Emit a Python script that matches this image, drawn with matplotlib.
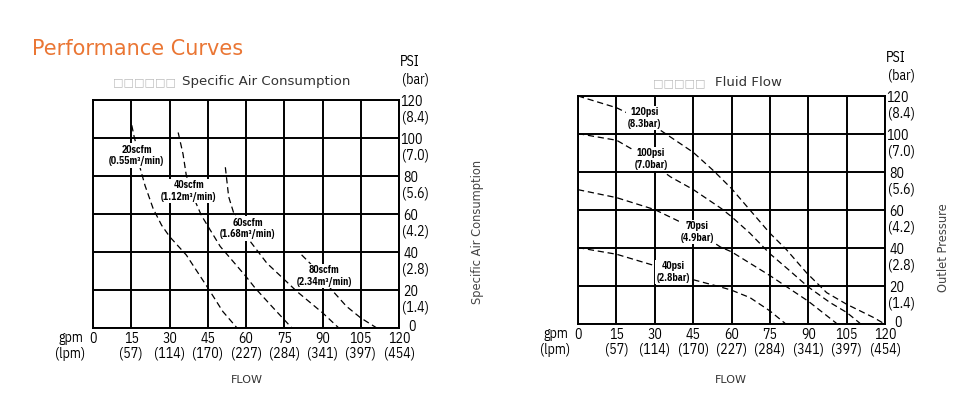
import matplotlib.pyplot as plt

# Tick values and secondary unit labels
gpm_ticks = [0, 15, 30, 45, 60, 75, 90, 105, 120]
lpm_labels = ['', '(57)', '(114)', '(170)', '(227)', '(284)', '(341)', '(397)', '(454)']
psi_ticks = [0, 20, 40, 60, 80, 100, 120]
bar_labels = ['', '(1.4)', '(2.8)', '(4.2)', '(5.6)', '(7.0)', '(8.4)']

# Specific air consumption curves (x = gpm, y = psi)
air20_x = [15.2, 16.2, 16.9, 18.4, 20.4, 23.6, 26.9, 30.1, 36.6, 45.1, 50.9, 56.5]
air20_y = [106.7, 100.3, 96.8, 84.6, 75.0, 62.8, 54.1, 48.0, 38.4, 21.0, 8.7, 0.0]
air40_x = [33.4, 35.3, 36.6, 40.5, 42.5, 45.1, 49.9, 60.0, 63.6, 69.5, 78.0]
air40_y = [102.9, 91.6, 80.2, 65.4, 59.3, 53.5, 42.9, 27.1, 21.0, 12.3, 0.0]
air60_x = [51.9, 53.2, 55.2, 61.7, 68.2, 75.1, 79.9, 90.1, 96.4]
air60_y = [84.6, 69.1, 60.4, 45.5, 34.1, 25.4, 19.3, 7.9, 0.0]
air80_x = [81.8, 85.1, 93.6, 99.4, 105.0, 111.3]
air80_y = [38.5, 34.1, 20.1, 11.4, 5.3, 0.0]
air_names = ['20scfm\n(0.55m³/min)', '40scfm\n(1.12m³/min)',
             '60scfm\n(1.68m³/min)', '80scfm\n(2.34m³/min)']
air_label_x = [17.1, 37.5, 60.6, 90.6]
air_label_y = [90.7, 72.1, 52.4, 27.3]

# Fluid flow curves at different air inlet pressures (x = gpm, y = psi)
p120_x = [0, 15.1, 19.8, 32.4, 45.0, 52.8, 60.0, 67.2, 75.0, 81.5, 89.3, 97.2, 105.0, 115.4, 119.4]
p120_y = [120, 113.8, 110.7, 101.8, 90.4, 80.9, 71.3, 60.0, 47.8, 39.1, 27.0, 16.5, 10.4, 3.5, 0.4]
p100_x = [0, 15.1, 21.9, 36.2, 45.0, 56.0, 60.0, 67.2, 75.0, 82.2, 90.0, 98.5, 105.0, 110.2]
p100_y = [100.2, 96.7, 91.4, 77.4, 70.8, 60.8, 56.5, 47.8, 37.0, 28.7, 19.5, 11.3, 6.1, 0.4]
p70_x = [0, 15.1, 30.0, 40.0, 51.8, 55.7, 60.0, 75.0, 90.0, 101.0]
p70_y = [70.7, 66.5, 60.2, 53.7, 44.0, 40.5, 38.0, 25.5, 12.0, 0.4]
p40_x = [0, 15.1, 30.0, 42.8, 55.7, 60.0, 67.2, 75.0, 80.9]
p40_y = [40.2, 36.7, 30.7, 24.1, 19.5, 17.8, 13.9, 6.9, 0.4]
flow_names = ['120psi\n(8.3bar)', '100psi\n(7.0bar)', '70psi\n(4.9bar)', '40psi\n(2.8bar)']
flow_label_x = [26.0, 28.6, 46.6, 37.3]
flow_label_y = [108.4, 86.8, 48.4, 27.3]

W, H = 971, 407
narrow = ['IBM Plex Sans Condensed', 'DejaVu Sans']
tick_fs = 10

fig = plt.figure(figsize=(W / 100, H / 100), dpi=100)


def fx(x):
    return x / W


def fy(y):
    return 1 - y / H


def label(ax, s, xy, off):
    ax.annotate(s, xy, xytext=off, textcoords='offset pixels', ha='center',
                va='center', fontsize=tick_fs, family=narrow)


def setup_axes(ax):
    ax.set_xlim(0, 120)
    ax.set_ylim(0, 120)
    ax.set_xticks(gpm_ticks)
    ax.set_yticks(psi_ticks)
    ax.tick_params(length=0, labelbottom=False, labelleft=False)
    ax.grid(True, color='black', lw=1.4)
    ax.set_axisbelow(True)
    for s in ax.spines.values():
        s.set_linewidth(1.4)
    # x tick labels: gpm with lpm below
    for g, l in zip(gpm_ticks, lpm_labels):
        label(ax, str(g), (g, 0), (0, -11))
        if l:
            label(ax, l, (g, 0), (0, -26))
    # y tick labels on the right: psi with bar below
    for p, b in zip(psi_ticks, bar_labels):
        if p == 0:
            label(ax, str(p), (120, p), (13, 1))
        else:
            label(ax, str(p), (120, p), (12, -2))
        if b:
            label(ax, b, (120, p), (16, -17))
    label(ax, 'PSI', (120, 120), (11, 38))
    label(ax, '(bar)', (120, 120), (16, 20))
    label(ax, 'gpm', (0, 0), (-22, -10))
    label(ax, '(lpm)', (0, 0), (-23, -26))


def draw_curves(ax, curves, names, lx, ly):
    for (x, y) in curves:
        ax.plot(x, y, color='black', lw=0.9, ls=(0, (5, 3)), zorder=2)
    for name, x, y in zip(names, lx, ly):
        ax.text(x, y, name, ha='center', va='center', fontsize=7,
                fontweight='bold', family=narrow, linespacing=1.2, zorder=4,
                bbox=dict(boxstyle='square,pad=0.15', fc='white', ec='none'))


ax1 = fig.add_axes([fx(93), fy(328), 306 / W, 228 / H])
setup_axes(ax1)
draw_curves(ax1, [(air20_x, air20_y), (air40_x, air40_y), (air60_x, air60_y), (air80_x, air80_y)],
            air_names, air_label_x, air_label_y)

ax2 = fig.add_axes([fx(578), fy(324), 307 / W, 228 / H])
setup_axes(ax2)
draw_curves(ax2, [(p120_x, p120_y), (p100_x, p100_y), (p70_x, p70_y), (p40_x, p40_y)],
            flow_names, flow_label_x, flow_label_y)

# Titles and side labels
fig.text(fx(32), fy(49), 'Performance Curves', color='#EA7634', fontsize=15,
         ha='left', va='center')
fig.text(fx(176), fy(82), '□□□□□□', color='#BBBBBB', fontsize=8, ha='right', va='center')
fig.text(fx(182), fy(82), 'Specific Air Consumption', color='#333333', fontsize=9.6,
         ha='left', va='center')
fig.text(fx(706), fy(83), '□□□□□', color='#BBBBBB', fontsize=8, ha='right', va='center')
fig.text(fx(715), fy(83), 'Fluid Flow', color='#333333', fontsize=9.6, ha='left', va='center')

fig.text(fx(477), fy(232), 'Specific Air Consumption', rotation=90, color='#444444',
         fontsize=8.3, ha='center', va='center')
fig.text(fx(943), fy(248), 'Outlet Pressure', rotation=90, color='#444444',
         fontsize=8.3, ha='center', va='center')
fig.text(fx(247), fy(380), 'FLOW', color='#333333', fontsize=8, ha='center', va='center')
fig.text(fx(731), fy(380), 'FLOW', color='#333333', fontsize=8, ha='center', va='center')

fig.savefig('out.png', dpi=100)
